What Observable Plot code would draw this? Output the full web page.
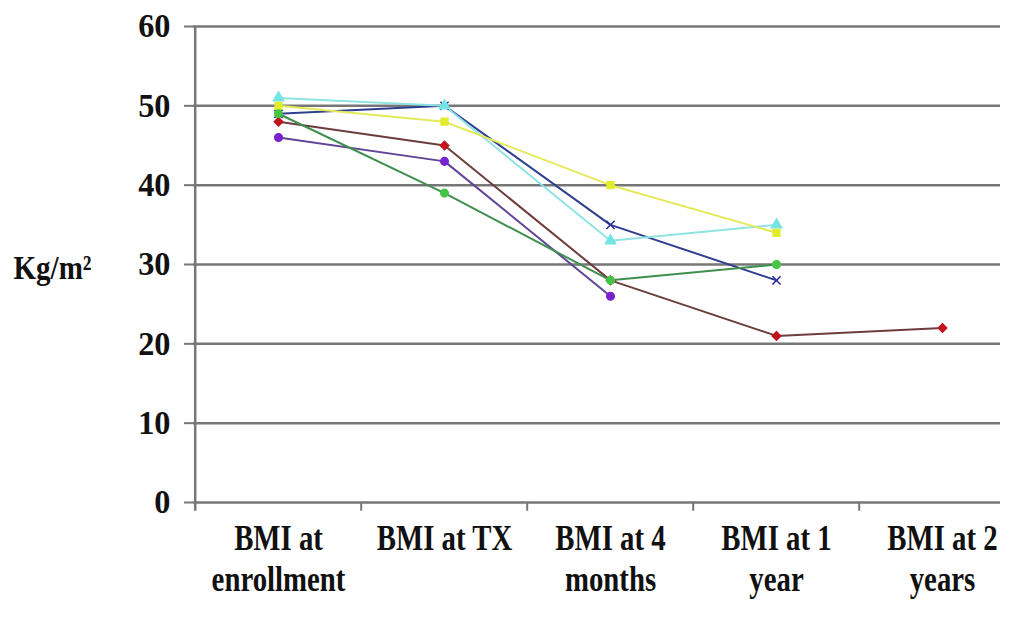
<!DOCTYPE html>
<html>
<head>
<meta charset="utf-8">
<script src="https://cdn.jsdelivr.net/npm/d3@7"></script>
<script src="https://cdn.jsdelivr.net/npm/@observablehq/plot@0.6"></script>
<style>
  html, body { margin: 0; padding: 0; background: #fff; }
</style>
</head>
<body>
<div id="chart"></div>
<script>
// ---- Data ----
const categories = ["BMI at enrollment", "BMI at TX", "BMI at 4 months", "BMI at 1 year", "BMI at 2 years"];
const tickLabels = ["BMI at\nenrollment", "BMI at TX", "BMI at 4\nmonths", "BMI at 1\nyear", "BMI at 2\nyears"];
const yTicks = [0, 10, 20, 30, 40, 50, 60];
const yLabel = "Kg/m\u00b2";

const seriesNames = ["Patient 1", "Patient 2", "Patient 3", "Patient 4", "Patient 5", "Patient 6"];
const patient1 = [48, 45, 28, 21, 22];        // red
const patient2 = [46, 43, 26, null, null];    // purple
const patient3 = [49, 50, 35, 28, null];      // navy blue
const patient4 = [51, 50, 33, 35, null];      // cyan
const patient5 = [50, 48, 40, 34, null];      // yellow
const patient6 = [49, 39, 28, 30, null];      // green

// ---- Styles ----
const lineColors   = ["#6e3c3c", "#5f4596", "#2f3f8f", "#8fe3e3", "#e4ea5a", "#3f8f4f"];
const markerColors = ["#c0141e", "#7a22d0", "#2a2a9a", "#74e4e4", "#e2ec2c", "#45c445"];
const markerSymbols = ["diamond2", "circle", "times", "triangle", "square", "circle"];

const seriesValues = [patient1, patient2, patient3, patient4, patient5, patient6];
const data = seriesNames.flatMap((name, i) =>
  seriesValues[i]
    .map((v, j) => ({series: name, category: categories[j], value: v}))
    .filter(d => d.value != null)
);
const lineColorOf = d => lineColors[seriesNames.indexOf(d.series)];

const xRange = [193, 1026];
const halfStep = (xRange[1] - xRange[0]) / categories.length / 2;
const gridColor = "#777777";
const font = "'Liberation Serif', 'Times New Roman', serif";

const chart = Plot.plot({
  width: 1012,
  height: 619,
  marginLeft: 193,
  marginRight: 12,
  marginTop: 26,
  marginBottom: 117,
  style: {fontFamily: font, fontWeight: "bold", color: "#111", background: "#fff"},
  x: {type: "point", domain: categories, range: xRange, padding: 0.5},
  y: {domain: [0, 60], ticks: yTicks},
  color: {domain: seriesNames, range: markerColors},
  symbol: {domain: seriesNames, range: markerSymbols},
  marks: [
    Plot.ruleY(yTicks, {stroke: gridColor, strokeWidth: 2.5}),
    Plot.ruleX([categories[0]], {dx: -halfStep, y1: -1.1, y2: 60, stroke: gridColor, strokeWidth: 2.5}),
    Plot.ruleX(categories.slice(1), {dx: -halfStep, y1: -1.1, y2: 0, stroke: gridColor, strokeWidth: 2}),
    Plot.axisY({ticks: yTicks, tickSize: 9, tickPadding: 14, fontSize: 34, stroke: gridColor, strokeWidth: 2, fill: "#111", label: null}),
    Plot.axisX({tickSize: 0, tickPadding: 18, fontSize: 36, lineHeight: 1.15, fill: "#111",
      tickFormat: d => tickLabels[categories.indexOf(d)], label: null}),
    Plot.line(data, {x: "category", y: "value", z: "series",
      stroke: {value: lineColorOf, scale: null}, strokeWidth: 2}),
    Plot.dot(data, {x: "category", y: "value", symbol: "series", fill: "series", stroke: "series", r: 3.8}),
    Plot.text([yLabel], {frameAnchor: "left", dx: -141, dy: 4, text: d => d, fontSize: 33, textAnchor: "middle", fill: "#111"})
  ]
});

document.getElementById("chart").appendChild(chart);

// Condense the serif labels horizontally as in the reference
const condense = (sel, k) => {
  chart.querySelectorAll(sel).forEach(t => {
    const tr = t.getAttribute("transform") || "";
    t.setAttribute("transform", tr + ` scale(${k},1)`);
  });
};
condense('g[aria-label="x-axis tick label"] text', 0.8);
condense('g[aria-label="y-axis tick label"] text', 0.95);
condense('g[aria-label="text"] text', 0.88);
</script>
</body>
</html>
